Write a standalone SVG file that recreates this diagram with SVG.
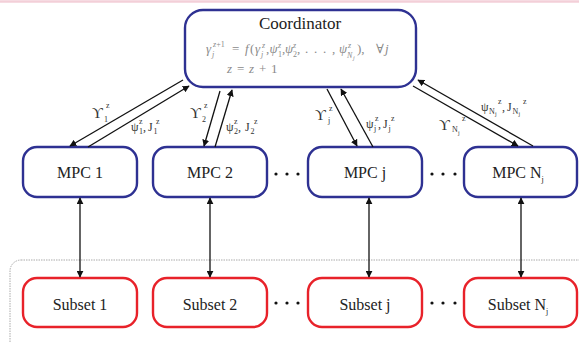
<svg xmlns="http://www.w3.org/2000/svg" width="579" height="342" viewBox="0 0 579 342">
<defs>
<marker id="ah" viewBox="0 0 10 10" refX="9" refY="5" markerWidth="7" markerHeight="7" markerUnits="userSpaceOnUse" orient="auto-start-reverse">
<path d="M0,0 L10,5 L0,10 z" fill="#111"/>
</marker>
<style>
.mpc{fill:#fff;stroke:#2e3192;stroke-width:2.4}
.sub{fill:#fff;stroke:#e8222a;stroke-width:2.4}
.lbl{font-family:"Liberation Serif","DejaVu Serif",serif;font-size:16px;fill:#222;text-anchor:middle}
.sc{font-size:8px}
.con line{stroke:#111;stroke-width:1.3}
.ar{font-family:"Liberation Serif","DejaVu Serif",serif;font-size:12px;fill:#333}
.big{font-size:15px}
.s7{font-size:8px}
.s5{font-size:6px}
.fm{font-family:"Liberation Serif","DejaVu Serif",serif;font-size:13px;fill:#8a8a8a}
.it{font-style:italic}
.dot{fill:#111}
</style>
</defs>
<rect width="579" height="342" fill="#fff"/>
<line x1="0" y1="1.5" x2="579" y2="1.5" stroke="#f3cfd8" stroke-width="2.5"/>
<rect id="subsets-area" x="10" y="260" width="620" height="120" rx="11" fill="none" stroke="#aaaaaa" stroke-width="1" stroke-dasharray="1.5 1"/>

<g id="coordinator">
<rect x="185" y="10" width="231" height="77" rx="18" class="mpc"/>
<text x="300" y="29" class="lbl" style="font-size:17px">Coordinator</text>
<text class="fm">
<tspan x="206" y="53" class="it">γ</tspan><tspan x="212" y="57" class="sc it">j</tspan><tspan x="213" y="47" class="sc"><tspan class="it">z</tspan>+1</tspan>
<tspan x="232" y="53">=</tspan>
<tspan x="245" y="53" class="it">f</tspan><tspan x="250" y="53">(</tspan>
<tspan x="255" y="53" class="it">γ</tspan><tspan x="261" y="57" class="sc it">j</tspan><tspan x="262" y="48" class="sc it">z</tspan>
<tspan x="266" y="53">,</tspan>
<tspan x="269.5" y="53" class="it">ψ</tspan><tspan x="278" y="57" class="sc">1</tspan><tspan x="278" y="48" class="sc it">z</tspan>
<tspan x="282" y="53">,</tspan>
<tspan x="285" y="53" class="it">ψ</tspan><tspan x="293" y="57" class="sc">2</tspan><tspan x="293" y="48" class="sc it">z</tspan>
<tspan x="297" y="53">,</tspan><tspan x="305" y="53">.</tspan><tspan x="314" y="53">.</tspan><tspan x="323" y="53">.</tspan><tspan x="332" y="53">,</tspan>
<tspan x="339" y="53" class="it">ψ</tspan><tspan x="347" y="58" class="s7 it">N</tspan><tspan x="353" y="60" class="s5 it">j</tspan><tspan x="348" y="48" class="sc it">z</tspan>
<tspan x="357" y="53">),</tspan>
<tspan x="376" y="53">∀</tspan><tspan x="385" y="53" class="it">j</tspan>
</text>
<text class="fm">
<tspan x="227" y="73" class="it">z</tspan><tspan x="237" y="73">=</tspan><tspan x="249" y="73" class="it">z</tspan><tspan x="259" y="73">+</tspan><tspan x="271" y="73">1</tspan>
</text>
</g>

<g id="mpc1"><rect x="23" y="147" width="114" height="50" rx="14" class="mpc"/><text x="80" y="178" class="lbl">MPC 1</text></g>
<g id="mpc2"><rect x="153" y="147" width="114" height="50" rx="14" class="mpc"/><text x="210" y="178" class="lbl">MPC 2</text></g>
<g id="mpcj"><rect x="308" y="147" width="114" height="50" rx="14" class="mpc"/><text x="365" y="178" class="lbl">MPC j</text></g>
<g id="mpcN"><rect x="464" y="147" width="113" height="50" rx="14" class="mpc"/><text x="518" y="178" class="lbl">MPC N<tspan class="sc" dy="4">j</tspan></text></g>

<g id="subset1"><rect x="23" y="278" width="114" height="49" rx="14" class="sub"/><text x="80" y="310" class="lbl">Subset 1</text></g>
<g id="subset2"><rect x="153" y="278" width="114" height="49" rx="14" class="sub"/><text x="210" y="310" class="lbl">Subset 2</text></g>
<g id="subsetj"><rect x="308" y="278" width="114" height="49" rx="14" class="sub"/><text x="365" y="310" class="lbl">Subset j</text></g>
<g id="subsetN"><rect x="464" y="278" width="113" height="49" rx="14" class="sub"/><text x="518" y="310" class="lbl">Subset N<tspan class="sc" dy="4">j</tspan></text></g>

<g id="dots">
<circle cx="276" cy="174" r="1.6" class="dot"/><circle cx="287" cy="174" r="1.6" class="dot"/><circle cx="298" cy="174" r="1.6" class="dot"/>
<circle cx="432" cy="174" r="1.6" class="dot"/><circle cx="443" cy="174" r="1.6" class="dot"/><circle cx="455" cy="174" r="1.6" class="dot"/>
<circle cx="276" cy="303" r="1.6" class="dot"/><circle cx="287" cy="303" r="1.6" class="dot"/><circle cx="298" cy="303" r="1.6" class="dot"/>
<circle cx="432" cy="303" r="1.6" class="dot"/><circle cx="443" cy="303" r="1.6" class="dot"/><circle cx="455" cy="303" r="1.6" class="dot"/>
</g>

<g id="connectors" class="con">
<line x1="183" y1="80" x2="70" y2="146" marker-end="url(#ah)"/>
<line x1="88" y1="147" x2="189" y2="86" marker-end="url(#ah)"/>
<line x1="220" y1="91" x2="204" y2="146" marker-end="url(#ah)"/>
<line x1="215" y1="147" x2="232" y2="90" marker-end="url(#ah)"/>
<line x1="327" y1="89" x2="357" y2="146" marker-end="url(#ah)"/>
<line x1="373" y1="147" x2="341" y2="89" marker-end="url(#ah)"/>
<line x1="533" y1="146" x2="418" y2="80" marker-end="url(#ah)"/>
<line x1="413" y1="86" x2="518" y2="146" marker-end="url(#ah)"/>
<line x1="80" y1="198" x2="80" y2="277" marker-start="url(#ah)" marker-end="url(#ah)"/>
<line x1="210" y1="198" x2="210" y2="277" marker-start="url(#ah)" marker-end="url(#ah)"/>
<line x1="369" y1="198" x2="369" y2="277" marker-start="url(#ah)" marker-end="url(#ah)"/>
<line x1="521" y1="198" x2="521" y2="277" marker-start="url(#ah)" marker-end="url(#ah)"/>
</g>

<g id="labels" class="ar">
<text><tspan x="92" y="118" class="big">ϒ</tspan><tspan x="106" y="108" class="s7">z</tspan><tspan x="104" y="122" class="s7">1</tspan></text>
<text><tspan x="131" y="131">ψ</tspan><tspan x="139" y="134" class="s7">1</tspan><tspan x="139" y="124" class="s7">z</tspan><tspan x="143" y="131">,</tspan><tspan x="148" y="131">J</tspan><tspan x="153.5" y="134" class="s7">1</tspan><tspan x="156" y="124" class="s7">z</tspan></text>
<text><tspan x="190" y="118" class="big">ϒ</tspan><tspan x="204" y="108" class="s7">z</tspan><tspan x="202" y="122" class="s7">2</tspan></text>
<text><tspan x="226" y="131">ψ</tspan><tspan x="234" y="134" class="s7">2</tspan><tspan x="234" y="124" class="s7">z</tspan><tspan x="238" y="131">,</tspan><tspan x="245" y="131">J</tspan><tspan x="250.5" y="134" class="s7">2</tspan><tspan x="254" y="124" class="s7">z</tspan></text>
<text><tspan x="315" y="120" class="big">ϒ</tspan><tspan x="329" y="111" class="s7">z</tspan><tspan x="328" y="123" class="s7">j</tspan></text>
<text><tspan x="366" y="128">ψ</tspan><tspan x="374" y="131" class="s7">j</tspan><tspan x="375" y="121" class="s7">z</tspan><tspan x="378" y="128">,</tspan><tspan x="383" y="128">J</tspan><tspan x="388.5" y="131" class="s7">j</tspan><tspan x="391" y="121" class="s7">z</tspan></text>
<text><tspan x="481" y="111">ψ</tspan><tspan x="489" y="114" class="s7">N</tspan><tspan x="495" y="116" class="s5">j</tspan><tspan x="498" y="104" class="s7">z</tspan><tspan x="502" y="111">,</tspan><tspan x="507" y="111">J</tspan><tspan x="512.5" y="114" class="s7">N</tspan><tspan x="518.5" y="116" class="s5">j</tspan><tspan x="523" y="104" class="s7">z</tspan></text>
<text><tspan x="439" y="130" style="font-size:15px">ϒ</tspan><tspan x="452" y="132" class="s7">N</tspan><tspan x="458" y="135" class="s5">j</tspan><tspan x="462" y="121" class="s7">z</tspan></text>
</g>
</svg>
